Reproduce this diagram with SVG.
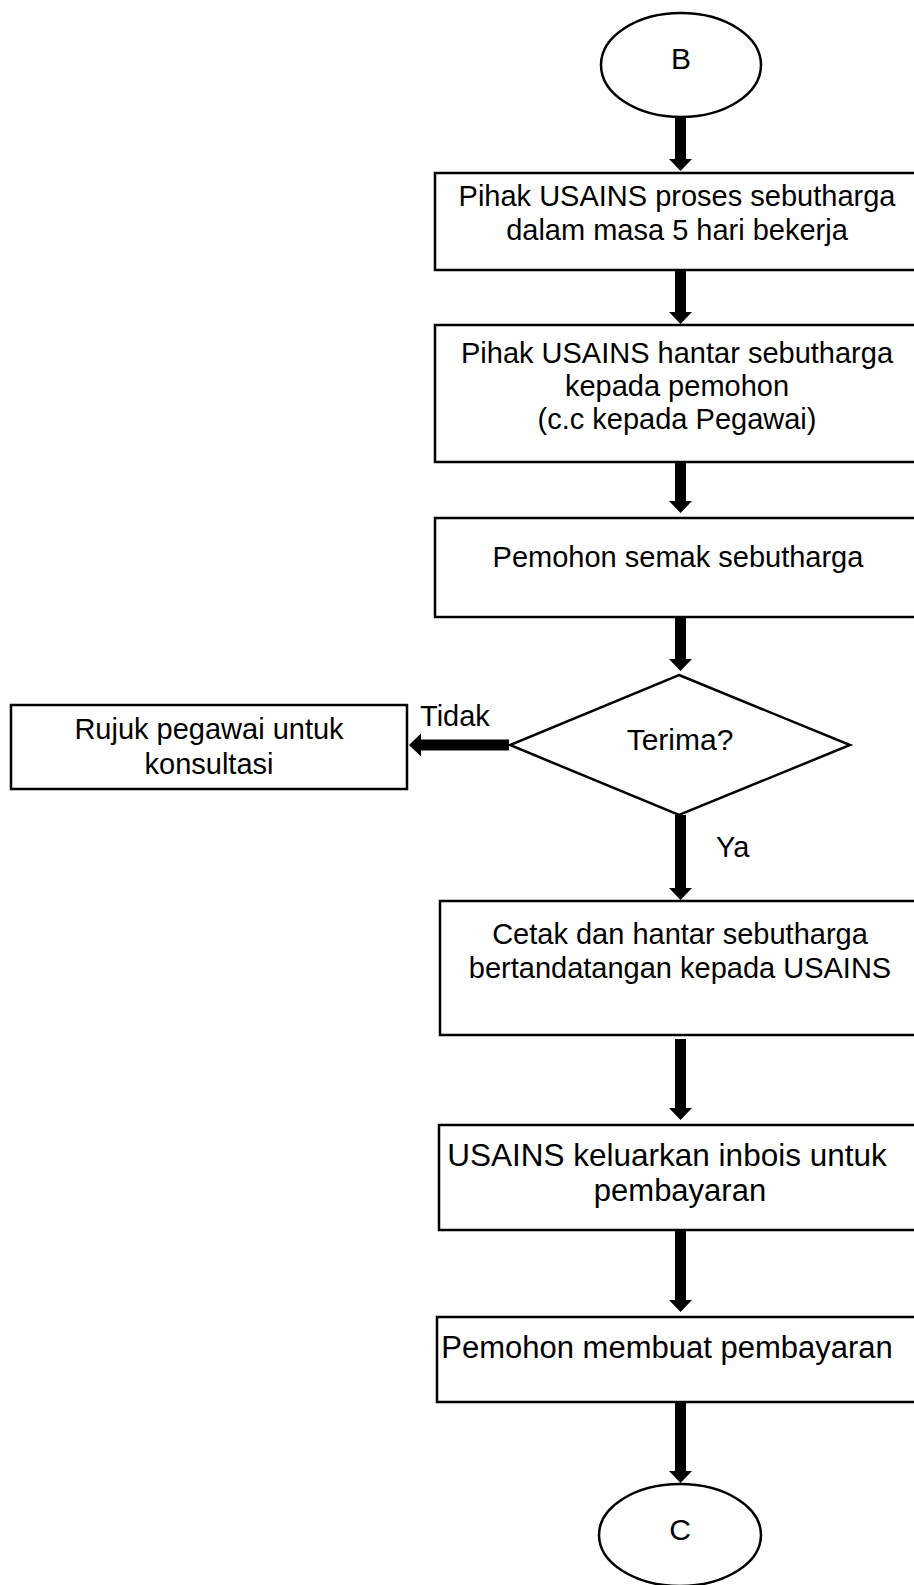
<svg xmlns="http://www.w3.org/2000/svg" width="914" height="1585" viewBox="0 0 914 1585">
<style>
.box{fill:#fff;stroke:#000;stroke-width:2.5}
.t{font-family:"Liberation Sans",Arial,sans-serif;font-size:29px;fill:#000;text-anchor:middle}
.lbl{font-family:"Liberation Sans",Arial,sans-serif;font-size:29px;fill:#000}
.sh{stroke:#000;stroke-width:11;fill:none}
</style>
<defs>
<marker id="ah" markerUnits="userSpaceOnUse" markerWidth="24" markerHeight="24" refX="0" refY="11.5" orient="auto">
<path d="M0,0 L12,11.5 L0,23 z" fill="#000"/>
</marker>
</defs>
<rect width="914" height="1585" fill="#fff"/>
<g id="connectors">
<line class="sh" x1="680.5" y1="117" x2="680.5" y2="159" marker-end="url(#ah)"/>
<line class="sh" x1="680.5" y1="271" x2="680.5" y2="312" marker-end="url(#ah)"/>
<line class="sh" x1="680.5" y1="463" x2="680.5" y2="501" marker-end="url(#ah)"/>
<line class="sh" x1="680.5" y1="618" x2="680.5" y2="659" marker-end="url(#ah)"/>
<line class="sh" x1="680.5" y1="815" x2="680.5" y2="888" marker-end="url(#ah)"/>
<line class="sh" x1="680.5" y1="1039" x2="680.5" y2="1108" marker-end="url(#ah)"/>
<line class="sh" x1="680.5" y1="1231" x2="680.5" y2="1300" marker-end="url(#ah)"/>
<line class="sh" x1="680.5" y1="1403" x2="680.5" y2="1471" marker-end="url(#ah)"/>
<line class="sh" x1="509" y1="745" x2="421" y2="745" marker-end="url(#ah)"/>
<text class="lbl" x="420" y="726">Tidak</text>
<text class="lbl" x="716" y="857">Ya</text>
</g>
<g id="start-B">
<ellipse class="box" cx="681" cy="65" rx="80" ry="52"/>
<text class="t" x="681" y="69" style="font-size:30px">B</text>
</g>
<g id="step1">
<rect class="box" x="435" y="173" width="482" height="97"/>
<text class="t" x="677" y="206">Pihak USAINS proses sebutharga</text>
<text class="t" x="677" y="240">dalam masa 5 hari bekerja</text>
</g>
<g id="step2">
<rect class="box" x="435" y="325" width="482" height="137"/>
<text class="t" x="677" y="363">Pihak USAINS hantar sebutharga</text>
<text class="t" x="677" y="396">kepada pemohon</text>
<text class="t" x="677" y="429">(c.c kepada Pegawai)</text>
</g>
<g id="step3">
<rect class="box" x="435" y="518" width="482" height="99"/>
<text class="t" x="678" y="567">Pemohon semak sebutharga</text>
</g>
<g id="decision">
<polygon class="box" points="679,675 850,745 679,815 510,745"/>
<text class="t" x="680" y="750" style="font-size:30px">Terima?</text>
</g>
<g id="refer">
<rect class="box" x="11" y="705" width="396" height="84"/>
<text class="t" x="209" y="739">Rujuk pegawai untuk</text>
<text class="t" x="209" y="774">konsultasi</text>
</g>
<g id="step4">
<rect class="box" x="440" y="901" width="477" height="134"/>
<text class="t" x="680" y="944">Cetak dan hantar sebutharga</text>
<text class="t" x="680" y="978">bertandatangan kepada USAINS</text>
</g>
<g id="step5">
<rect class="box" x="439" y="1125" width="478" height="105"/>
<text class="t" x="667" y="1166" style="font-size:31.5px">USAINS keluarkan inbois untuk</text>
<text class="t" x="680" y="1201" style="font-size:31px">pembayaran</text>
</g>
<g id="step6">
<rect class="box" x="437" y="1317" width="480" height="85"/>
<text class="t" x="667" y="1358" style="font-size:31px">Pemohon membuat pembayaran</text>
</g>
<g id="end-C">
<ellipse class="box" cx="680" cy="1535" rx="81" ry="51"/>
<text class="t" x="680" y="1540" style="font-size:30px">C</text>
</g>
</svg>
